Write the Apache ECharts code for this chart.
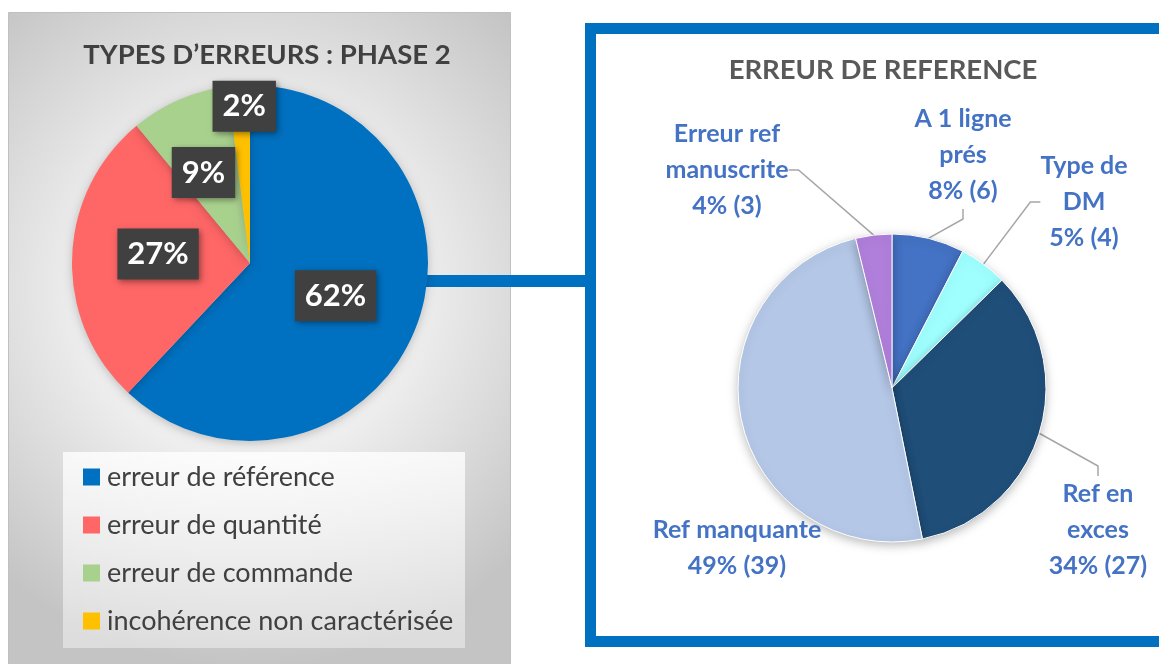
<!DOCTYPE html>
<html><head><meta charset="utf-8">
<script src="https://cdn.jsdelivr.net/npm/echarts@6/dist/echarts.min.js"></script>
<style>html,body{margin:0;padding:0;background:#fff}#c{width:1159px;height:664px}</style>
</head><body><div id="c"></div>
<script>
// Left chart data
const leftTitle = "TYPES D’ERREURS : PHASE 2";
const leftCategories = ["erreur de référence", "erreur de quantité", "erreur de commande", "incohérence non caractérisée"];
const leftValues = [62, 27, 9, 2];
const leftColors = ["#0070C0", "#FF6666", "#A9D18E", "#FFC000"];
// Right chart data
const rightTitle = "ERREUR DE REFERENCE";
const rightCategories = ["A 1 ligne\nprés", "Type de\nDM", "Ref en\nexces", "Ref manquante", "Erreur ref\nmanuscrite"];
const rightValues = [6, 4, 27, 39, 3];
const rightColors = ["#4472C4", "#9FFFFF", "#1F4E79", "#B4C7E7", "#B07FDB"];

// label placement (layout only)
const leftLabelOffsets = [[0, -1], [0, -6], [-10, -6], [0, -65]];
const rightLabelAnchors = [[963, 155], [1084, 202], [1098, 530], [737, 548], [727, 170]];
const FONT = "Lato, 'Open Sans', sans-serif";

const chart = echarts.init(document.getElementById('c'), null, {renderer: 'canvas'});
const option = {
  animation: false,
  backgroundColor: '#ffffff',
  title: [
    {text: leftTitle, left: 262, top: 36, textAlign: 'center',
     textStyle: {fontFamily: FONT, fontSize: 27.5, fontWeight: 'bold', color: '#404040'}},
    {text: rightTitle, left: 878, top: 51, textAlign: 'center',
     textStyle: {fontFamily: FONT, fontSize: 27.5, fontWeight: 'bold', color: '#595959'}}
  ],
  legend: {
    data: leftCategories, orient: 'vertical', left: 78, top: 456, itemGap: 16,
    itemWidth: 17, itemHeight: 17, icon: 'rect', selectedMode: false,
    textStyle: {fontFamily: FONT, fontSize: 27, color: '#404040', lineHeight: 32, padding: [0,0,0,2]}
  },
  graphic: [
    {type: 'rect', z: -10, shape: {x: 8.5, y: 12.5, width: 502, height: 660},
     style: {fill: {type: 'radial', x: 0.48, y: 0.42, r: 0.75,
       colorStops: [{offset: 0, color: '#ffffff'}, {offset: 0.45, color: '#eeeeee'}, {offset: 1, color: '#c4c4c4'}]},
       stroke: '#c0c0c0', lineWidth: 1}},
    {type: 'rect', z: -9, shape: {x: 63, y: 452, width: 402, height: 196},
     style: {fill: {type: 'linear', x: 0, y: 0, x2: 0, y2: 1,
       colorStops: [{offset: 0, color: 'rgba(255,255,255,0.8)'}, {offset: 1, color: 'rgba(240,240,240,0.55)'}]}}},
    {type: 'rect', z: -8, shape: {x: 420, y: 275, width: 170, height: 12}, style: {fill: '#0070C0'}},
    {type: 'rect', z: -8, shape: {x: 590.5, y: 28.5, width: 600, height: 613},
     style: {fill: '#ffffff', stroke: '#0070C0', lineWidth: 11}}
  ],
  series: [
    {
      type: 'pie', center: [250, 263], radius: 178, startAngle: 90, clockwise: true,
      percentPrecision: 0, silent: true,
      itemStyle: {borderWidth: 0, shadowBlur: 10, shadowColor: 'rgba(0,0,0,0.22)', shadowOffsetY: 2},
      label: {position: 'inside', formatter: '{d}%', fontFamily: FONT, fontSize: 31, fontWeight: 'bold',
        color: '#ffffff', backgroundColor: '#404040', padding: [11, 10, 9, 10],
        shadowBlur: 6, shadowColor: 'rgba(0,0,0,0.4)', shadowOffsetX: 2, shadowOffsetY: 2},
      labelLine: {show: false},
      data: leftCategories.map((n, i) => ({name: n, value: leftValues[i],
        itemStyle: {color: leftColors[i]}, label: {offset: leftLabelOffsets[i]}}))
    },
    {
      type: 'pie', center: [892, 388], radius: 154, startAngle: 90, clockwise: true,
      percentPrecision: 0, silent: true, avoidLabelOverlap: false,
      itemStyle: {borderColor: '#ffffff', borderWidth: 1, shadowBlur: 10, shadowColor: 'rgba(0,0,0,0.25)', shadowOffsetY: 3},
      label: {position: 'outside', formatter: '{b}\n{d}% ({c})', fontFamily: FONT, fontSize: 25,
        fontWeight: 'bold', color: '#4472C4', lineHeight: 36},
      labelLine: {show: true, length: 20, length2: 10, lineStyle: {color: '#a6a6a6', width: 1.5}},
      labelLayout: function (p) {
        const a = rightLabelAnchors[p.dataIndex];
        return {x: a[0], y: a[1], align: 'center', verticalAlign: 'middle', hideOverlap: false};
      },
      data: rightCategories.map((n, i) => ({name: n, value: rightValues[i], itemStyle: {color: rightColors[i]},
        labelLine: {show: i !== 3}}))
    }
  ]
};
chart.setOption(option);
</script></body></html>
